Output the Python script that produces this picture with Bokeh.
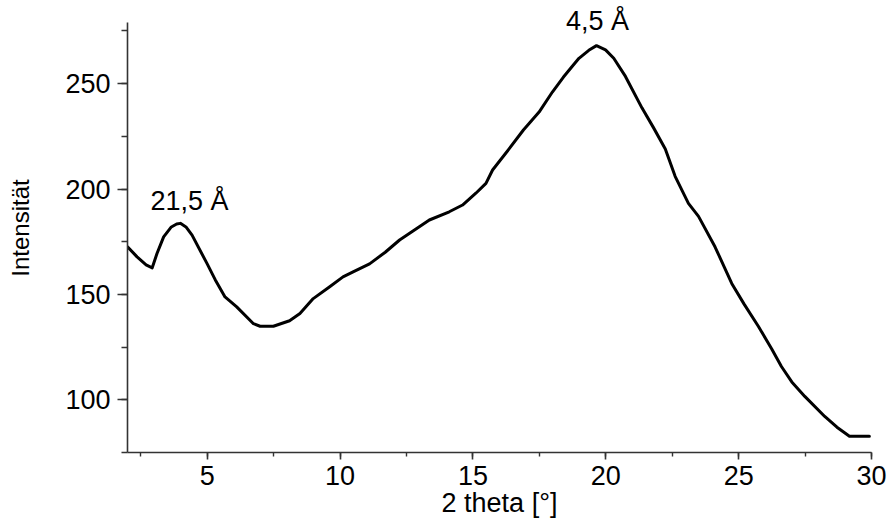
from bokeh.plotting import figure
from bokeh.models import SingleIntervalTicker, Range1d, Label
from bokeh.embed import file_html
from bokeh.resources import INLINE

# Diffractogram: intensity vs. 2 theta
two_theta = [2.0, 2.36, 2.7, 2.93, 3.11, 3.36, 3.65, 3.85, 3.99, 4.2, 4.43, 4.99, 5.3,
             5.67, 6.11, 6.74, 6.99, 7.49, 8.1, 8.49, 8.99, 9.61, 10.11, 10.49,
             11.11, 11.7, 12.24, 12.8, 13.36, 14.11, 14.61, 15.11, 15.49, 15.74,
             16.36, 16.9, 17.49, 17.99, 18.4, 18.74, 18.99, 19.36, 19.65, 19.99,
             20.3, 20.74, 21.36, 21.8, 22.24, 22.61, 23.11, 23.49, 24.11, 24.74,
             25.2, 25.74, 26.24, 26.61, 27.0, 27.49, 28.24, 28.7, 29.17, 29.92]
intensity = [172.6, 167.8, 164.0, 162.6, 169.4, 177.3, 182.0, 183.4, 183.7, 182.0, 178.1,
             164.7, 157.0, 148.8, 144.1, 136.1, 134.9, 134.9, 137.5, 140.9, 148.0,
             153.6, 158.3, 160.7, 164.5, 170.0, 175.8, 180.5, 185.3, 189.2, 192.4,
             198.0, 202.7, 209.0, 219.0, 228.0, 236.5, 246.0, 253.0, 258.2, 262.0,
             265.8, 268.0, 266.0, 262.0, 253.4, 238.5, 229.0, 219.0, 206.0, 193.2,
             187.0, 172.6, 155.2, 145.5, 134.9, 124.2, 115.8, 108.5, 101.6, 92.1,
             87.0, 82.7, 82.7]

# Peak annotations: (2 theta, intensity at text baseline, text)
peak_x = [4.33, 19.69]
peak_y = [190.0, 275.2]
peak_text = ["21,5 Å", "4,5 Å"]

FONT = "Liberation Sans"

# the frame reaches a little above the axis end so the upper peak label is not clipped
Y_AXIS_END = 279
p = figure(frame_width=744, frame_height=449,
           min_border_left=127, min_border_right=20,
           min_border_top=3, min_border_bottom=66,
           x_range=Range1d(2, 30), y_range=Range1d(75, 288),
           output_backend="svg", toolbar_location=None)

p.outline_line_color = None
p.grid.visible = False
p.background_fill_color = "white"
p.border_fill_color = "white"

p.line(two_theta, intensity, line_color="black", line_width=3,
       line_join="round", line_cap="round")

for x, y, t in zip(peak_x, peak_y, peak_text):
    p.add_layout(Label(x=x, y=y, text=t, text_align="center",
                       text_baseline="alphabetic", y_offset=9, text_font=FONT,
                       text_font_size="27px", text_color="black"))

xa = p.xaxis[0]
xa.ticker = SingleIntervalTicker(interval=5, num_minor_ticks=2)
xa.axis_label = "2 theta [°]"
xa.major_tick_out = 7
xa.major_tick_in = 0
xa.minor_tick_out = 4
xa.minor_tick_in = 0
xa.major_label_standoff = 6
xa.axis_label_standoff = 0

ya = p.yaxis[0]
ya.ticker = SingleIntervalTicker(interval=50, num_minor_ticks=2)
ya.bounds = (75, Y_AXIS_END)
ya.axis_label = "Intensität"
ya.major_tick_out = 10
ya.major_tick_in = 0
ya.minor_tick_out = 6
ya.minor_tick_in = 0
ya.major_label_standoff = 7
ya.axis_label_standoff = 28
ya.major_label_orientation = "horizontal"

for ax in (xa, ya):
    ax.axis_line_color = "#333333"
    ax.axis_line_width = 1.6
    ax.major_tick_line_color = "#333333"
    ax.major_tick_line_width = 1.6
    ax.minor_tick_line_color = "#333333"
    ax.minor_tick_line_width = 1.4
    ax.major_label_text_font = FONT
    ax.major_label_text_font_size = "27px"
    ax.major_label_text_color = "black"
    ax.axis_label_text_font = FONT
    ax.axis_label_text_font_style = "normal"
    ax.axis_label_text_color = "black"

xa.axis_label_text_font_size = "27px"
ya.axis_label_text_font_size = "24px"

open("out.html", "w").write(file_html(p, INLINE))
